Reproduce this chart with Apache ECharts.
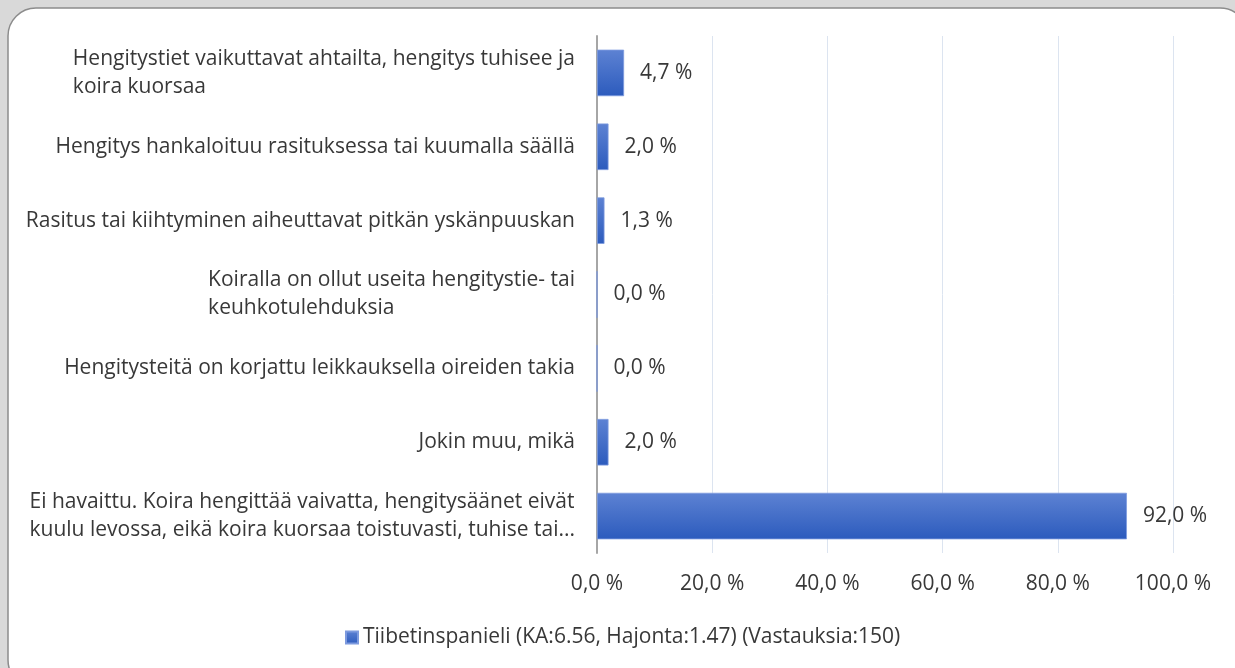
<!DOCTYPE html>
<html>
<head>
<meta charset="utf-8">
<script src="https://cdn.jsdelivr.net/npm/echarts@6/dist/echarts.min.js"></script>
<style>
  html, body { margin: 0; padding: 0; background: #d9d9d9; }
  #main { width: 1235px; height: 668px; }
</style>
</head>
<body>
<div id="main"></div>
<script>
var categories = [
  'Hengitystiet vaikuttavat ahtailta, hengitys tuhisee ja\nkoira kuorsaa',
  'Hengitys hankaloituu rasituksessa tai kuumalla säällä',
  'Rasitus tai kiihtyminen aiheuttavat pitkän yskänpuuskan',
  'Koiralla on ollut useita hengitystie- tai\nkeuhkotulehduksia',
  'Hengitysteitä on korjattu leikkauksella oireiden takia',
  'Jokin muu, mikä',
  'Ei havaittu. Koira hengittää vaivatta, hengitysäänet eivät\nkuulu levossa, eikä koira kuorsaa toistuvasti, tuhise tai...'
]
var values = [4.7, 2.0, 1.3, 0.0, 0.0, 2.0, 92.0]
var seriesName = 'Tiibetinspanieli (KA:6.56, Hajonta:1.47) (Vastauksia:150)'

var font = '"Open Sans", sans-serif'
var fontSize = 21
var textColor = '#383838'

function pct (v) {
  return v.toFixed(1).replace('.', ',') + ' %'
}

var myChart = echarts.init(document.getElementById('main'))

var option = {
  backgroundColor: '#d9d9d9',
  animation: false,
  graphic: [
    {
      type: 'rect',
      z: -10,
      shape: { x: 8, y: 8, width: 1240, height: 680, r: 28 },
      style: { fill: '#ffffff', stroke: '#8c8c8c', lineWidth: 1.5 }
    }
  ],
  grid: {
    left: 597,
    right: 62,
    top: 36,
    bottom: 115
  },
  legend: {
    left: 340,
    top: 622,
    itemWidth: 12,
    itemHeight: 12,
    icon: 'rect',
    textStyle: { fontFamily: font, fontSize: fontSize, color: textColor },
    data: [seriesName]
  },
  xAxis: {
    type: 'value',
    min: 0,
    max: 100,
    interval: 20,
    axisLine: { show: false },
    axisTick: { show: false },
    splitLine: { lineStyle: { color: '#dce4f0', width: 1 } },
    axisLabel: {
      margin: 21,
      fontFamily: font,
      fontSize: fontSize,
      color: textColor,
      formatter: function (v) { return pct(v) }
    }
  },
  yAxis: {
    type: 'category',
    inverse: true,
    data: categories,
    axisLine: { show: true, lineStyle: { color: '#a6a6a6', width: 2 } },
    axisTick: { show: false },
    axisLabel: {
      margin: 22,
      fontFamily: font,
      fontSize: fontSize,
      lineHeight: 28,
      color: textColor,
      align: 'right',
      // lines of a wrapped label stay left-aligned inside the block
      formatter: function (v) {
        return v.split('\n').map(function (s) { return '{l|' + s + '}' }).join('\n')
      },
      rich: {
        l: { align: 'left', fontFamily: font, fontSize: fontSize, lineHeight: 28, color: textColor }
      }
    }
  },
  series: [
    {
      name: seriesName,
      type: 'bar',
      data: values,
      barCategoryGap: '37%',
      itemStyle: {
        color: new echarts.graphic.LinearGradient(0, 0, 0, 1, [
          { offset: 0, color: '#5d82d3' },
          { offset: 1, color: '#2c5bbd' }
        ]),
        borderColor: '#7d9ade',
        borderWidth: 0.8
      },
      label: {
        show: true,
        position: 'right',
        distance: 16,
        fontFamily: font,
        fontSize: fontSize,
        color: textColor,
        formatter: function (p) { return pct(p.value) }
      }
    }
  ]
}

myChart.setOption(option)
</script>
</body>
</html>
